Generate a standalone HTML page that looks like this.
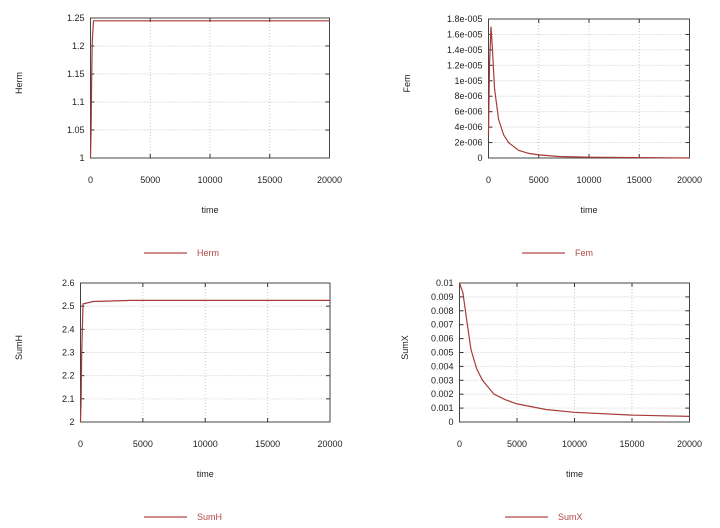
<!DOCTYPE html>
<html><head><meta charset="utf-8"><style>
html,body{margin:0;padding:0;background:#fff;}
svg{display:block;font-family:"Liberation Sans",sans-serif;}
</style></head><body>
<svg id="s" width="720" height="528" viewBox="0 0 720 528"></svg>
<script>
const timeTicks=[0,5000,10000,15000,20000];
const hermT=[0,50,100,150,250,20000];
const hermV=[1,1.05,1.15,1.21,1.245,1.245];
const hermTicks=[1,1.05,1.1,1.15,1.2,1.25];
const hermLabels=["1","1.05","1.1","1.15","1.2","1.25"];
const femT=[0,100,250,400,600,1000,1500,2000,3000,4000,5000,7000,10000,20000];
const femV=[0.3e-5,1.2e-5,1.7e-5,1.4e-5,0.9e-5,0.5e-5,0.3e-5,0.2e-5,0.1e-5,0.06e-5,0.04e-5,0.02e-5,0.01e-5,0];
const femTicks=[0,2e-6,4e-6,6e-6,8e-6,1e-5,1.2e-5,1.4e-5,1.6e-5,1.8e-5];
const femLabels=["0","2e-006","4e-006","6e-006","8e-006","1e-005","1.2e-005","1.4e-005","1.6e-005","1.8e-005"];
const sumHT=[0,50,100,200,1000,4000,20000];
const sumHV=[2.0,2.1,2.3,2.51,2.52,2.525,2.525];
const sumHTicks=[2,2.1,2.2,2.3,2.4,2.5,2.6];
const sumHLabels=["2","2.1","2.2","2.3","2.4","2.5","2.6"];
const sumXT=[0,300,600,1000,1500,2000,3000,4000,5000,7500,10000,15000,20000];
const sumXV=[0.01,0.0093,0.0075,0.0052,0.0038,0.003,0.002,0.0016,0.0013,0.0009,0.0007,0.0005,0.0004];
const sumXTicks=[0,0.001,0.002,0.003,0.004,0.005,0.006,0.007,0.008,0.009,0.01];
const sumXLabels=["0","0.001","0.002","0.003","0.004","0.005","0.006","0.007","0.008","0.009","0.01"];

const S=document.getElementById('s');
const NS='http://www.w3.org/2000/svg';
function mk(tag,attrs,parent){const e=document.createElementNS(NS,tag);for(const k in attrs)e.setAttribute(k,attrs[k]);(parent||S).appendChild(e);return e;}
function panel(id,x0,x1,y0,y1,yMin,yMax,yTicks,yLabels,ts,vs,title,titleX,legX,legY){
  const g=mk('g',{});
  
  
  const sx=t=>x0+(t-0)/(20000)*(x1-x0);
  const sy=v=>y1-(v-yMin)/(yMax-yMin)*(y1-y0);
  timeTicks.forEach((t,i)=>{
    const X=sx(t);
    if(i>0&&i<timeTicks.length-1){const l=mk('line',{x1:X,x2:X,y1:y0,y2:y1,stroke:'#c8c8c8','stroke-dasharray':'1,2'},g);
    
    
    mk('line',{x1:X,x2:X,y1:y1,y2:y1-4,stroke:'#333'},g);mk('line',{x1:X,x2:X,y1:y0,y2:y0+4,stroke:'#333'},g);}
    const tx=mk('text',{x:X,y:y1+25,'font-size':9,'text-anchor':'middle',fill:'#222'},g);tx.textContent=String(t);
    
    
  });
  yTicks.forEach((v,i)=>{
    const Y=sy(v);
    if(i>0&&i<yTicks.length-1){const l=mk('line',{x1:x0,x2:x1,y1:Y,y2:Y,stroke:'#c8c8c8','stroke-dasharray':'1,2'},g);
    
    
    mk('line',{x1:x0,x2:x0+4,y1:Y,y2:Y,stroke:'#333'},g);mk('line',{x1:x1,x2:x1-4,y1:Y,y2:Y,stroke:'#333'},g);}
    const tx=mk('text',{x:x0-6,y:Y+3,'font-size':9,'text-anchor':'end',fill:'#222'},g);tx.textContent=yLabels[i];
    
    
  });
  const fr=mk('rect',{x:x0,y:y0,width:x1-x0,height:y1-y0,fill:'none',stroke:'#444','stroke-width':1},g);
  
  
  const d=ts.map((t,i)=>(i?'L':'M')+sx(t).toFixed(1)+','+sy(vs[i]).toFixed(1)).join(' ');
  const p=mk('path',{d:d,fill:'none',stroke:'#a83a3a','stroke-width':1.2},g);
  
  
  const xt=mk('text',{x:(x0+x1)/2,y:y1+55,'font-size':9,'text-anchor':'middle',fill:'#222'},g);xt.textContent='time';
  
  
  const yc=(y0+y1)/2-5;
  const yt=mk('text',{x:titleX,y:yc,'font-size':9,'text-anchor':'middle',fill:'#222',transform:'rotate(-90 '+titleX+' '+yc+')'},g);yt.textContent=title;
  
  
  const lg=mk('g',{},g);
  
  
  mk('line',{x1:legX,x2:legX+43,y1:legY,y2:legY,stroke:'#b04848','stroke-width':1.2},lg);
  const lt=mk('text',{x:legX+53,y:legY+3,'font-size':9,fill:'#b04848'},lg);lt.textContent=title;
}
panel('herm',90.5,329.5,18,158,1,1.25,hermTicks,hermLabels,hermT,hermV,'Herm',22,144,253);
panel('fem',488.5,689.5,19,158,0,1.8e-5,femTicks,femLabels,femT,femV,'Fem',410,522,253);
panel('sumh',80.5,330,283,422,2,2.6,sumHTicks,sumHLabels,sumHT,sumHV,'SumH',22,144,517);
panel('sumx',459.5,689.5,283,422,0,0.01,sumXTicks,sumXLabels,sumXT,sumXV,'SumX',408,505,517);
</script>
</body></html>
